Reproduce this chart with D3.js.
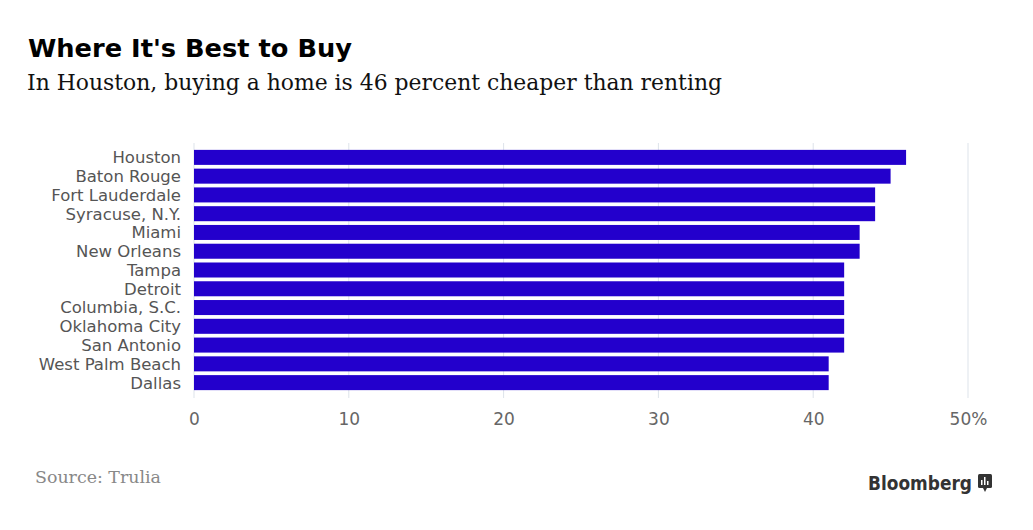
<!DOCTYPE html>
<html>
<head>
<style>
  body { margin: 0; background: #fff; }
  svg { display: block; }
</style>
<script src="https://cdn.jsdelivr.net/npm/d3@7"></script>
</head>
<body>
<script>
const cities = ["Houston", "Baton Rouge", "Fort Lauderdale", "Syracuse, N.Y.", "Miami", "New Orleans",
  "Tampa", "Detroit", "Columbia, S.C.", "Oklahoma City", "San Antonio", "West Palm Beach", "Dallas"];
const values = [46, 45, 44, 44, 43, 43, 42, 42, 42, 42, 42, 41, 41];
const ticks = [0, 10, 20, 30, 40, 50];

const w = 1033, h = 530;
const svg = d3.select("body").append("svg").attr("width", w).attr("height", h);

// titles
svg.append("text").attr("x", 28).attr("y", 57)
  .attr("textLength", 324).attr("lengthAdjust", "spacingAndGlyphs")
  .style("font-family", "'DejaVu Sans', sans-serif")
  .style("font-weight", "bold").style("font-size", "25px").style("fill", "#000")
  .text("Where It's Best to Buy");
svg.append("text").attr("x", 27).attr("y", 90)
  .attr("textLength", 695).attr("lengthAdjust", "spacingAndGlyphs")
  .style("font-family", "'DejaVu Serif', serif")
  .style("font-size", "22px").style("fill", "#111")
  .text("In Houston, buying a home is 46 percent cheaper than renting");

const x = d3.scaleLinear().domain([0, 50]).range([194, 968]);
const y = d3.scaleBand().domain(cities).range([148, 392]).paddingInner(0.2).paddingOuter(0.1);

// grid
svg.selectAll(".grid").data(ticks).enter().append("line")
  .attr("x1", d => x(d)).attr("x2", d => x(d))
  .attr("y1", 143).attr("y2", 398)
  .style("stroke", "#dde3ea").style("stroke-width", 1);

svg.selectAll(".bar").data(cities).enter().append("rect")
  .attr("x", x(0))
  .attr("y", d => y(d))
  .attr("width", (d, i) => x(values[i]) - x(0))
  .attr("height", y.bandwidth())
  .style("fill", "#2300cc");

// city labels
svg.selectAll(".lab").data(cities).enter().append("text")
  .attr("x", 181)
  .attr("y", d => y(d) + y.bandwidth() / 2)
  .attr("dy", "0.36em")
  .attr("text-anchor", "end")
  .style("font-family", "'DejaVu Sans', sans-serif")
  .style("font-size", "16.5px").style("fill", "#555")
  .text(d => d);

// x axis labels
const axis = d3.axisBottom(x).tickValues(ticks).tickSize(0).tickPadding(0)
  .tickFormat(d => d === 50 ? "50%" : d);
const ax = svg.append("g").attr("transform", "translate(0,413)").call(axis);
ax.select(".domain").remove();
ax.selectAll("text")
  .style("font-family", "'DejaVu Sans', sans-serif")
  .style("font-size", "17px").style("fill", "#666");

// footer
svg.append("text").attr("x", 35).attr("y", 483)
  .attr("textLength", 126).attr("lengthAdjust", "spacingAndGlyphs")
  .style("font-family", "'DejaVu Serif', serif")
  .style("font-size", "17px").style("fill", "#888")
  .text("Source: Trulia");
svg.append("text").attr("x", 868).attr("y", 490)
  .attr("textLength", 104).attr("lengthAdjust", "spacingAndGlyphs")
  .style("font-family", "'DejaVu Sans', sans-serif")
  .style("font-weight", "bold").style("font-size", "19px").style("fill", "#333")
  .text("Bloomberg");
const logo = svg.append("g").attr("transform", "translate(978,474)");
logo.append("rect").attr("width", 14).attr("height", 14).attr("rx", 1.5).style("fill", "#333");
logo.append("path").attr("d", "M5,14 L7,18 L9,14 Z").style("fill", "#333");
[[3, 6], [6, 3], [9, 7]].forEach(p => {
  logo.append("rect").attr("x", p[0]).attr("y", p[1]).attr("width", 1.5).attr("height", 11 - p[1])
    .style("fill", "#fff");
});
</script>
</body>
</html>
